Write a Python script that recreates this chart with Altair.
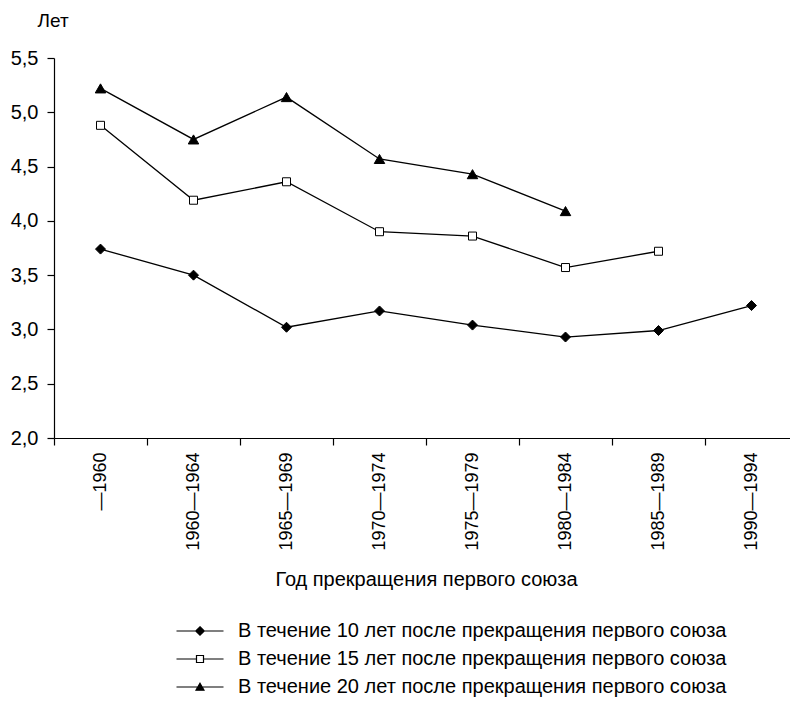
import altair as alt
import pandas as pd

categories = ["—1960", "1960—1964", "1965—1969", "1970—1974",
              "1975—1979", "1980—1984", "1985—1989", "1990—1994"]
series_names = [
    "В течение 10 лет после прекращения первого союза",
    "В течение 15 лет после прекращения первого союза",
    "В течение 20 лет после прекращения первого союза",
]
s10 = [3.74, 3.50, 3.02, 3.17, 3.04, 2.93, 2.99, 3.22]
s15 = [4.88, 4.19, 4.36, 3.90, 3.86, 3.57, 3.72, None]
s20 = [5.22, 4.75, 5.14, 4.57, 4.43, 4.09, None, None]
y_ticks = [2.0, 2.5, 3.0, 3.5, 4.0, 4.5, 5.0, 5.5]

rows = []
for name, vals in zip(series_names, [s10, s15, s20]):
    for c, v in zip(categories, vals):
        if v is not None:
            rows.append({"period": c, "series": name, "value": v})
df = pd.DataFrame(rows)

FONT = "Liberation Sans"

marker_shapes = ["diamond", "square", "triangle-up"]
marker_fills = ["black", "white", "black"]
marker_sizes = [100, 64, 110]
legend_paths = [
    "M-4.7,0H4.7M0,-0.85L0.85,0L0,0.85L-0.85,0Z",
    "M-4.7,0H-0.7M0.7,0H4.7M-0.7,-0.7H0.7V0.7H-0.7Z",
    "M-4.7,0H4.7M0,-0.75L0.8,0.65L-0.8,0.65Z",
]

x_enc = alt.X("period:N", sort=categories,
              scale=alt.Scale(type="band", paddingInner=0, paddingOuter=0),
              axis=alt.Axis(title="Год прекращения первого союза",
                            labelAngle=-90, labelPadding=7, tickSize=7,
                            tickBand="extent", labelFontSize=18,
                            titleFontSize=20, titlePadding=19,
                            titleFontWeight="normal"))
y_enc = alt.Y("value:Q",
              scale=alt.Scale(domain=[2.0, 5.5], nice=False, zero=False),
              axis=alt.Axis(title="Лет", values=y_ticks, grid=False,
                            tickSize=7, labelPadding=9, labelFontSize=20,
                            labelExpr="replace(format(datum.value, '.1f'), '.', ',')",
                            titleAngle=0, titleAlign="left",
                            titleBaseline="alphabetic", titleX=-17, titleY=-32,
                            titleFontSize=19, titleFontWeight="normal"))

base = alt.Chart(df)

lines = base.mark_line(color="black", strokeWidth=1.3).encode(
    x=x_enc, y=y_enc, detail="series:N")

point_layers = []
for name, shp, fil, sz in zip(series_names, marker_shapes, marker_fills, marker_sizes):
    point_layers.append(
        base.transform_filter(alt.datum.series == name).mark_point(
            shape=shp, filled=True, fill=fil, stroke="black", strokeWidth=1,
            size=sz, opacity=1,
        ).encode(x=x_enc, y=y_enc)
    )

legend = alt.Legend(
    title=None, orient="none", legendX=136, legendY=563,
    padding=0, symbolSize=100, labelOffset=28, rowPadding=8,
    labelFontSize=20, labelLimit=700, labelColor="black", labelFont=FONT,
    symbolStrokeColor="black", symbolStrokeWidth=1.2, symbolOpacity=1,
)

legend_layer = base.mark_point(filled=False, opacity=0).encode(
    x=x_enc, y=y_enc,
    shape=alt.Shape("series:N", sort=series_names,
                    scale=alt.Scale(domain=series_names, range=legend_paths),
                    legend=legend),
    fill=alt.Fill("series:N", sort=series_names,
                  scale=alt.Scale(domain=series_names, range=marker_fills),
                  legend=legend),
    stroke=alt.Stroke("series:N", sort=series_names,
                      scale=alt.Scale(domain=series_names,
                                      range=["black", "black", "black"]),
                      legend=legend),
)

chart = alt.layer(lines, *point_layers, legend_layer).properties(
    width=744, height=380,
    autosize=alt.AutoSizeParams(type="none"),
    padding={"left": 46, "top": 50, "right": -8, "bottom": 260},
).configure(font=FONT).configure_view(stroke=None).configure_axis(
    domainColor="black", tickColor="black", labelColor="black",
    titleColor="black", labelFont=FONT, titleFont=FONT, domainWidth=1.2,
    tickWidth=1.2,
)

chart.save("out.html", embed_options={"renderer": "svg", "actions": False})
